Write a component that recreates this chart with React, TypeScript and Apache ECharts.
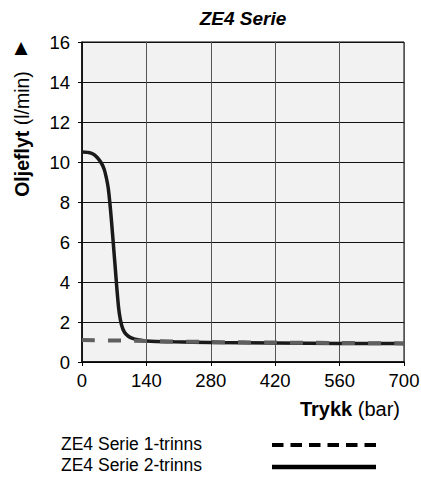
import React, { useEffect, useRef } from "react";
import * as echarts from "echarts";

const xTicks = [0, 140, 280, 420, 560, 700];
const yTicks = [0, 2, 4, 6, 8, 10, 12, 14, 16];

const stage2X = [0, 12, 24, 34, 42, 48, 53, 57, 61, 65, 69, 73, 77, 81, 86, 92, 100, 110, 125, 140, 200, 280, 420, 560, 700];
const stage2Y = [10.5, 10.48, 10.4, 10.2, 9.95, 9.65, 9.2, 8.7, 7.85, 6.8, 5.65, 4.5, 3.35, 2.45, 1.85, 1.5, 1.3, 1.18, 1.1, 1.05, 1.01, 0.98, 0.95, 0.93, 0.92];

const stage1X = [0, 140, 280, 420, 560, 700];
const stage1Y = [1.1, 1.05, 1.0, 0.97, 0.95, 0.93];

const titleText = "ZE4 Serie";
const legendNames = ["ZE4 Serie 1-trinns", "ZE4 Serie 2-trinns"];

const FONT = "'Liberation Sans', Arial, Helvetica, sans-serif";

export default function App() {
  const ref = useRef<HTMLDivElement>(null);
  useEffect(() => {
    if (!ref.current) return;
    const chart = echarts.init(ref.current, null, { renderer: "svg" });
    const s2 = stage2X.map((x, i) => [x, stage2Y[i]]);
    const s1 = stage1X.map((x, i) => [x, stage1Y[i]]);
    chart.setOption({
      animation: false,
      backgroundColor: "#ffffff",
      textStyle: { fontFamily: FONT },
      grid: {
        left: 82,
        top: 42,
        right: 17,
        bottom: 117,
        show: true,
        backgroundColor: "#f2f2f2",
        borderColor: "#000",
        borderWidth: 1,
        outerBoundsMode: "none",
      },
      xAxis: {
        type: "value",
        min: 0,
        max: 700,
        interval: 140,
        axisLine: { show: true, lineStyle: { color: "#000", width: 1.5 } },
        axisTick: { show: true, length: 4, lineStyle: { color: "#000" } },
        axisLabel: { color: "#000", fontSize: 18.5, margin: 9, fontFamily: FONT },
        splitLine: { show: true, lineStyle: { color: "#555", width: 1 } },
      },
      yAxis: {
        type: "value",
        min: 0,
        max: 16,
        interval: 2,
        axisLine: { show: true, lineStyle: { color: "#000", width: 1.5 } },
        axisTick: { show: true, length: 4, lineStyle: { color: "#000" } },
        axisLabel: { color: "#000", fontSize: 18.5, margin: 12, fontFamily: FONT },
        splitLine: { show: true, lineStyle: { color: "#111", width: 1 } },
      },
      series: [
        {
          name: legendNames[0],
          type: "line",
          data: s1,
          showSymbol: false,
          smooth: 0.3,
          lineStyle: { color: "#5f5f5f", width: 4, type: [13, 13] },
          z: 3,
        },
        {
          name: legendNames[1],
          type: "line",
          data: s2,
          showSymbol: false,
          smooth: 0.4,
          lineStyle: { color: "#1a1a1a", width: 3.5, type: "solid" },
          z: 2,
        },
      ],
      graphic: [
        {
          type: "text",
          x: 243,
          y: 18,
          style: {
            text: titleText,
            fontFamily: FONT,
            fontSize: 19,
            fontWeight: "bold",
            fontStyle: "italic",
            fill: "#000",
            align: "center",
            verticalAlign: "middle",
          },
        },
        {
          type: "text",
          x: 22,
          y: 134,
          rotation: Math.PI / 2,
          style: {
            text: "{b|Oljeflyt} (l/min)",
            fontFamily: FONT,
            fontSize: 19.5,
            fill: "#000",
            align: "center",
            verticalAlign: "middle",
            rich: { b: { fontWeight: "bold", fontSize: 19.5, fontFamily: FONT } },
          },
        },
        {
          type: "text",
          x: 21,
          y: 47,
          style: { text: "▲", fontFamily: "DejaVu Sans", fontSize: 17, fill: "#000", align: "center", verticalAlign: "middle" },
        },
        {
          type: "text",
          x: 400,
          y: 409,
          style: {
            text: "{b|Trykk} (bar)",
            fontFamily: FONT,
            fontSize: 20,
            fill: "#000",
            align: "right",
            verticalAlign: "middle",
            rich: { b: { fontWeight: "bold", fontSize: 20, fontFamily: FONT } },
          },
        },
        {
          type: "text",
          x: 61,
          y: 444,
          style: { text: legendNames[0], fontFamily: FONT, fontSize: 17.5, fill: "#000", align: "left", verticalAlign: "middle" },
        },
        {
          type: "text",
          x: 61,
          y: 465,
          style: { text: legendNames[1], fontFamily: FONT, fontSize: 17.5, fill: "#000", align: "left", verticalAlign: "middle" },
        },
        {
          type: "line",
          shape: { x1: 272, y1: 445, x2: 376, y2: 445 },
          style: { stroke: "#000", lineWidth: 4, lineDash: [11.5, 7] },
        },
        {
          type: "line",
          shape: { x1: 272, y1: 467, x2: 376, y2: 467 },
          style: { stroke: "#000", lineWidth: 4.5 },
        },
      ],
    });
    return () => chart.dispose();
  }, []);
  return <div ref={ref} style={{ position: "fixed", left: 0, top: 0, width: 421, height: 479 }} />;
}
